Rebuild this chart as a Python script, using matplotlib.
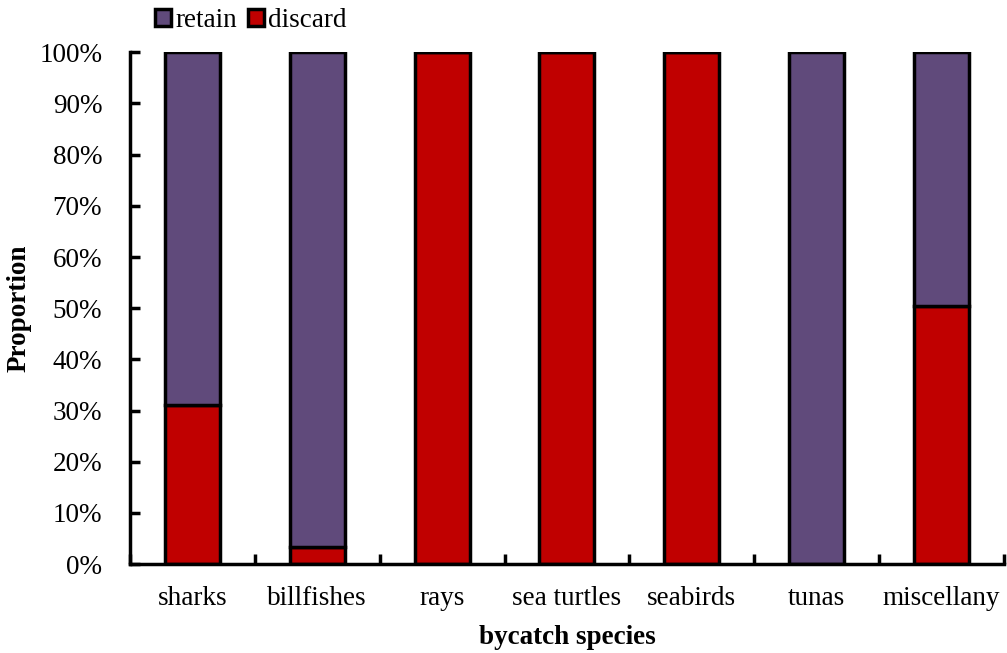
import numpy as np
import matplotlib.pyplot as plt

plt.rcParams['font.family'] = ['Liberation Serif', 'DejaVu Serif']

species = ['sharks', 'billfishes', 'rays', 'sea turtles', 'seabirds', 'tunas', 'miscellany']
discard = [31.0, 3.4, 100, 100, 100, 0, 50.5]
retain = [100 - d for d in discard]

fig = plt.figure(figsize=(10.07, 6.53), dpi=100)
ax = fig.add_axes([0.129, 0.136, 0.868, 0.784])

x = np.arange(len(species))
ax.bar(x, discard, width=0.44, color='#C00000', edgecolor='black', linewidth=2.5, label='discard')
ax.bar(x, retain, width=0.44, bottom=discard, color='#604A7B', edgecolor='black', linewidth=2.5, label='retain')

ax.set_xlim(-0.5, len(species) - 0.5)
ax.set_ylim(0, 100)
ax.set_yticks(np.arange(0, 101, 10))
ax.set_yticklabels([f'{v}%' for v in range(0, 101, 10)])
ax.set_xticks(x)
ax.set_xticklabels(species)
ax.set_xticks(np.arange(-0.5, len(species), 1), minor=True)
ax.tick_params(axis='x', which='major', length=0, labelsize=19.5, pad=16)
ax.tick_params(axis='x', which='minor', direction='in', length=7, width=2.5)
ax.tick_params(axis='y', direction='in', length=7, width=2.5, labelsize=19.5, pad=20)

for s in ['top', 'right']:
    ax.spines[s].set_visible(False)
for s in ['left', 'bottom']:
    ax.spines[s].set_linewidth(2.5)

ax.set_xlabel('bycatch species', fontsize=19.5, fontweight='bold', labelpad=10)
ax.set_ylabel('Proportion', fontsize=19.5, fontweight='bold')
ax.yaxis.set_label_coords(-0.112, 0.5)

h, l = ax.get_legend_handles_labels()
fig.legend(h[::-1], l[::-1], loc='upper left', bbox_to_anchor=(0.138, 1.012), ncol=2,
           frameon=False, fontsize=19.5, handlelength=0.6, handleheight=0.6,
           handletextpad=0.15, columnspacing=0.4, borderaxespad=0.2)

fig.savefig('out.png', dpi=100)
